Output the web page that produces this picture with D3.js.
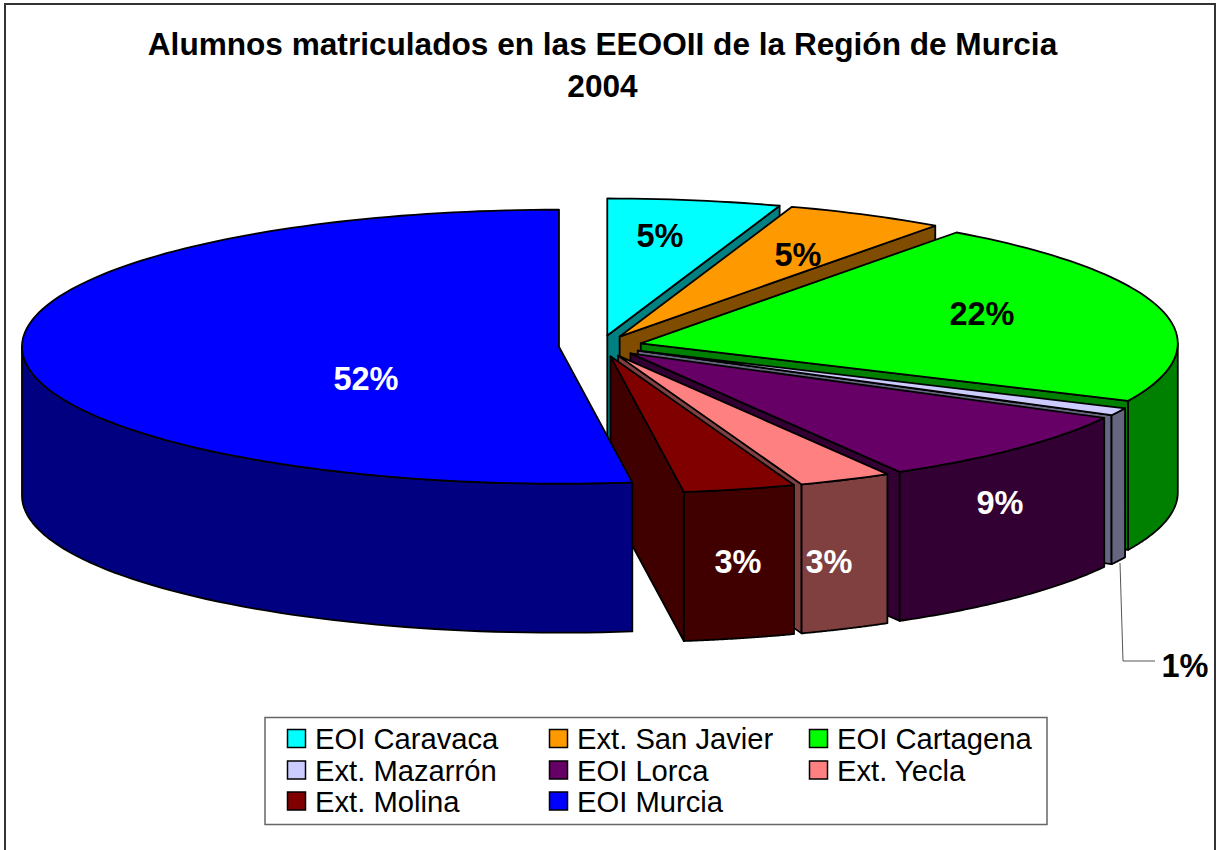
<!DOCTYPE html>
<html><head><meta charset="utf-8">
<script src="https://cdn.jsdelivr.net/npm/d3@7"></script>
<style>html,body{margin:0;padding:0;background:#fff;overflow:hidden}svg{display:block}text{font-family:"Liberation Sans",Arial,sans-serif}</style>
</head><body><svg id="c" width="1220" height="850"></svg>
<script>
// ---- data ----
const categories = ["EOI Caravaca","Ext. San Javier","EOI Cartagena","Ext. Mazarrón","EOI Lorca","Ext. Yecla","Ext. Molina","EOI Murcia"];
const shares = [5.2,4.8,21.9,0.9,8.84,2.81,3.37,52.18];
const titleLines = ["Alumnos matriculados en las EEOOII de la Región de Murcia","2004"];
// ---- styles / layout ----
const topColors = ["#00FFFF","#FF9900","#00FF00","#CCCCFF","#660066","#FF8080","#800000","#0000FF"];
const labelColors = ["#000","#000","#000","#000","#fff","#fff","#fff","#fff"];
const labelCenters = [[660,235],[798,254],[982,313],[1185,665],[1000,502],[829,561],[738,561],[366,378]];
const cx=600.5, cy=346, rx=537, ry=137, depth=149, explode=0.0775;
const svg=d3.select("#c");
const px=d3.scaleLinear().domain([-1,1]).range([cx-rx,cx+rx]);
const py=d3.scaleLinear().domain([-1,1]).range([cy-ry,cy+ry]);
const arcs=d3.pie().sort(null).value(d=>d)(shares);

svg.append("rect").attr("x",5).attr("y",4).attr("width",1210).attr("height",900)
  .attr("fill","#fff").attr("stroke","#333").attr("stroke-width",2);

svg.selectAll("text.title").data(titleLines).join("text").attr("class","title")
  .attr("x",602.5).attr("y",(d,i)=>55+i*42).attr("text-anchor","middle")
  .attr("font-size",31.6).attr("font-weight","bold").attr("fill","#000").text(d=>d);

const line=d3.line();
const dark=c=>{const k=d3.rgb(c);return d3.rgb(k.r/2,k.g/2,k.b/2).formatHex();};
const g=svg.append("g").attr("stroke","#000").attr("stroke-width",1.8).attr("stroke-linejoin","round");
arcs.forEach((s,i)=>{
  const mid=(s.startAngle+s.endAngle)/2;
  const ox=explode*Math.sin(mid), oy=-explode*Math.cos(mid);
  const P=(a,f=1,z=0)=>[px(ox+f*Math.sin(a)),py(oy-f*Math.cos(a))+z];
  const apex=P(0,0);
  const wall=dark(topColors[i]);
  const quad=a=>[apex,P(a),P(a,1,depth),P(0,0,depth)];
  if(Math.sin(s.startAngle)<-1e-6) g.append("path").attr("d",line(quad(s.startAngle))+"Z").attr("fill",wall);
  if(Math.sin(s.endAngle)>1e-6) g.append("path").attr("d",line(quad(s.endAngle))+"Z").attr("fill",wall);
  const lo=Math.max(s.startAngle,Math.PI/2), hi=Math.min(s.endAngle,3*Math.PI/2);
  if(hi>lo){
    const as=d3.range(0,61).map(t=>lo+(hi-lo)*t/60);
    const pts=as.map(a=>P(a)).concat(as.slice().reverse().map(a=>P(a,1,depth)));
    g.append("path").attr("d",line(pts)+"Z").attr("fill",wall);
  }
  const n=Math.max(4,Math.ceil((s.endAngle-s.startAngle)*40));
  const top=[apex].concat(d3.range(0,n+1).map(t=>P(s.startAngle+(s.endAngle-s.startAngle)*t/n)));
  g.append("path").attr("d",line(top)+"Z").attr("fill",topColors[i]);
});

// leader line for the smallest slice
svg.append("path").attr("d",line([[1120,563],[1123,661],[1155,661]])).attr("fill","none").attr("stroke","#555").attr("stroke-width",1);

svg.selectAll("text.pct").data(arcs).join("text").attr("class","pct")
  .attr("x",(d,i)=>labelCenters[i][0]).attr("y",(d,i)=>labelCenters[i][1]+11.5)
  .attr("text-anchor","middle").attr("font-size",32.5).attr("font-weight","bold")
  .attr("fill",(d,i)=>labelColors[i]).text(d=>Math.round(d.value)+"%");

// legend
const legend=svg.append("g");
legend.append("rect").attr("x",265).attr("y",717.5).attr("width",782).attr("height",107)
  .attr("fill","#fff").attr("stroke","#666").attr("stroke-width",1.5);
const colX=[287,549,809], rowY=[738.5,770,801];
const items=legend.selectAll("g").data(categories).join("g")
  .attr("transform",(d,i)=>`translate(${colX[i%3]},${rowY[Math.floor(i/3)]})`);
items.append("rect").attr("x",0.5).attr("y",-9).attr("width",18).attr("height",18)
  .attr("fill",(d,i)=>topColors[i]).attr("stroke","#000").attr("stroke-width",1.5);
items.append("text").attr("x",28).attr("y",10.5).attr("font-size",29.2).attr("fill","#000").text(d=>d);
</script></body></html>
